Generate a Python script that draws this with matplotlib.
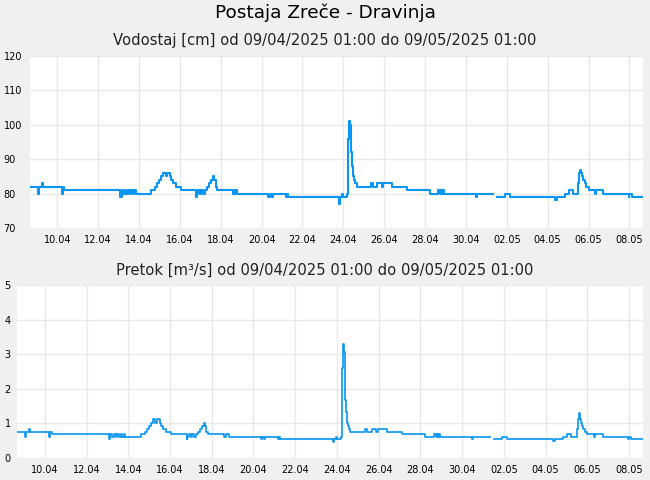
import numpy as np
import matplotlib
matplotlib.use('Agg')
import matplotlib.pyplot as plt

# hours after 09/04/2025 01:00, value holds until next entry (nan = missing)
ure = [0, 9.4, 10.6, 14.1, 15.3, 37.0, 38.2, 39.9, 105.7, 107.5, 109.2, 111.6,
       113.3, 115.1, 117.5, 119.2, 121.0, 122.7, 124.5, 142.1, 146.8, 149.2,
       151.5, 153.9, 156.2, 159.2, 161.5, 163.9, 165.6, 168.0, 170.9, 176.8,
       195.0, 196.1, 197.9, 199.7, 201.4, 203.2, 205.5, 207.9, 210.2, 212.6,
       214.9, 216.7, 217.9, 219.6, 238.4, 240.2, 243.7, 280.1, 281.9, 283.7,
       285.4, 300.1, 301.9, 303.0, 362.9, 364.1, 366.5, 367.6, 372.3, 373.5,
       374.7, 375.9, 376.7, 377.6, 378.6, 379.4, 380.6, 382.3, 383.5, 400.5,
       402.3, 407.9, 413.4, 415.2, 425.2, 442.8, 469.8, 479.2, 481.6, 482.7,
       483.9, 485.1, 486.3, 523.3, 525.0, 543.8, 548.5, 557.9, 563.2, 616.1,
       619.0, 628.4, 632.5, 637.2, 643.7, 644.8, 646.0, 647.2, 648.7, 649.9,
       651.5, 653.6, 656.0, 663.6, 664.8, 673.6, 703.0, 704.1, 706.5, 720]

vodostaj = [82, 80, 82, 83, 82, 80, 82, 81, 79, 81, 80, 81,
            80, 81, 80, 81, 80, 81, 80, 81, 82, 83,
            84, 85, 86, 85, 86, 85, 84, 83, 82, 81,
            79, 80, 81, 80, 81, 80, 81, 82, 83, 84,
            85, 84, 82, 81, 80, 81, 80, 79, 80, 79,
            80, 79, 80, 79, 77, 79, 80, 79, 80, 96,
            101, 100, 95, 92, 88, 85, 84, 83, 82, 83,
            82, 83, 82, 83, 82, 81, 80, 81, 80, 81,
            80, 81, 80, 79, 80, np.nan, 79, 80, 79, 78,
            79, 80, 81, 80, 83, 86, 87, 86, 85, 84,
            83, 82, 81, 80, 81, 80, 79, 80, 79, 79]

pretok = [0.76, 0.62, 0.76, 0.83, 0.76, 0.62, 0.76, 0.70, 0.55, 0.70, 0.62, 0.70,
          0.62, 0.70, 0.62, 0.70, 0.62, 0.70, 0.62, 0.70, 0.76, 0.83,
          0.92, 1.02, 1.13, 1.02, 1.13, 1.02, 0.92, 0.83, 0.76, 0.70,
          0.55, 0.62, 0.70, 0.62, 0.70, 0.62, 0.70, 0.76, 0.83, 0.92,
          1.02, 0.92, 0.76, 0.70, 0.62, 0.70, 0.62, 0.55, 0.62, 0.55,
          0.62, 0.55, 0.62, 0.55, 0.45, 0.55, 0.62, 0.55, 0.62, 2.6,
          3.3, 3.07, 2.35, 1.68, 1.34, 1.02, 0.92, 0.83, 0.76, 0.83,
          0.76, 0.83, 0.76, 0.83, 0.76, 0.70, 0.62, 0.70, 0.62, 0.70,
          0.62, 0.70, 0.62, 0.55, 0.62, np.nan, 0.55, 0.62, 0.55, 0.50,
          0.55, 0.62, 0.70, 0.62, 0.83, 1.13, 1.29, 1.13, 1.02, 0.92,
          0.83, 0.76, 0.70, 0.62, 0.70, 0.62, 0.55, 0.62, 0.55, 0.55]

dnevi = ['10.04', '12.04', '14.04', '16.04', '18.04', '20.04', '22.04', '24.04',
         '26.04', '28.04', '30.04', '02.05', '04.05', '06.05', '08.05']
dnevi_ure = [32 + 48 * i for i in range(len(dnevi))]

barva = '#0896f2'
ozadje = '#f0f0f0'
mreza = '#e9e9e9'

fig = plt.figure(figsize=(6.5, 4.8), dpi=100, facecolor=ozadje)
ax1 = fig.add_axes([30 / 650, 1 - 228 / 480, 613 / 650, 172 / 480])
ax2 = fig.add_axes([17 / 650, 1 - 458 / 480, 626 / 650, 173 / 480])


def uredi(ax, yticks, pad):
    ax.set_facecolor('white')
    for s in ax.spines.values():
        s.set_visible(False)
    ax.set_xlim(0, 720)
    ax.set_xticks(dnevi_ure)
    ax.set_xticklabels(dnevi)
    ax.set_yticks(yticks)
    ax.set_ylim(yticks[0], yticks[-1])
    ax.tick_params(axis='both', length=0, labelsize=7)
    ax.tick_params(axis='x', pad=5)
    ax.tick_params(axis='y', pad=pad)
    for t in ax.get_yticklabels():
        t.set_horizontalalignment('left')
    ax.grid(True, color=mreza, linewidth=1)
    ax.set_axisbelow(True)


ax1.plot(ure, vodostaj, drawstyle='steps-post', color=barva, linewidth=1.5)
uredi(ax1, [70, 80, 90, 100, 110, 120], 19)

ax2.plot(ure, pretok, drawstyle='steps-post', color=barva, linewidth=1.2)
uredi(ax2, [0, 1, 2, 3, 4, 5], 9)

fig.text(0.5, 1 - 13 / 480, 'Postaja Zreče - Dravinja', ha='center', va='center', fontsize=13.3)
fig.text(0.5, 1 - 40 / 480, 'Vodostaj [cm] od 09/04/2025 01:00 do 09/05/2025 01:00',
         ha='center', va='center', fontsize=10.6, color='#222222')
fig.text(0.5, 1 - 270 / 480, 'Pretok [m³/s] od 09/04/2025 01:00 do 09/05/2025 01:00',
         ha='center', va='center', fontsize=10.6, color='#222222')

fig.savefig('out.png', dpi=100, facecolor=ozadje)
